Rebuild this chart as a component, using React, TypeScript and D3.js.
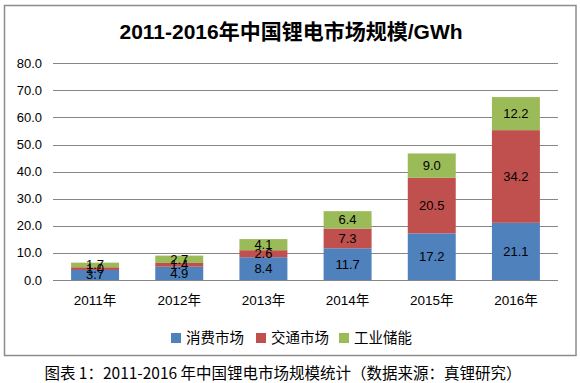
import React from "react";
import * as d3 from "d3";

const years = ["2011年", "2012年", "2013年", "2014年", "2015年", "2016年"];
const seriesNames = ["消费市场", "交通市场", "工业储能"];
const consumer = [3.7, 4.9, 8.4, 11.7, 17.2, 21.1];
const transport = [1.0, 1.4, 2.6, 7.3, 20.5, 34.2];
const industrial = [1.7, 2.7, 4.1, 6.4, 9.0, 12.2];
const yTicks = [0, 10, 20, 30, 40, 50, 60, 70, 80];
const colors = ["#4F81BD", "#C0504D", "#9BBB59"];

const W = 580;
const H = 383;
const FONT = "'Liberation Sans', 'Noto Sans CJK SC', sans-serif";
const CJK = "'Noto Sans CJK SC', 'Liberation Sans', sans-serif";

export default function App() {
  const x = d3.scaleBand<string>().domain(years).range([53, 558]).paddingInner(0.43).paddingOuter(0.215);
  const y = d3.scaleLinear().domain([0, 80]).range([280, 63.2]);
  const rows = years.map((yr, i) => ({ yr, c: consumer[i], t: transport[i], g: industrial[i] }));
  const stack = d3.stack<any>().keys(["c", "t", "g"])(rows);

  return (
    <svg width={W} height={H} style={{ position: "absolute", left: 0, top: 0, background: "#fff" }}>
      <rect x={0} y={0} width={W} height={H} fill="#fff" />
      <rect x={4.5} y={5.5} width={571.5} height={350} fill="none" stroke="#8c8c8c" strokeWidth={1.5} />
      <text x={291} y={38.5} textAnchor="middle" fontFamily={FONT} fontWeight="bold" fontSize={21} fill="#000">
        2011-2016年中国锂电市场规模/GWh
      </text>
      {yTicks.map((t) => (
        <g key={t}>
          <line x1={53} x2={558} y1={Math.round(y(t)) + 0.5} y2={Math.round(y(t)) + 0.5} stroke="#868686" strokeWidth={1} />
          <text x={42} y={y(t) + 4.5} textAnchor="end" fontFamily={FONT} fontSize={13} fill="#000">
            {t.toFixed(1)}
          </text>
        </g>
      ))}
      {stack.map((layer, si) => (
        <g key={si}>
          {layer.map((d, i) => (
            <rect
              key={i}
              x={x(years[i])}
              width={x.bandwidth()}
              y={y(d[1])}
              height={y(d[0]) - y(d[1])}
              fill={colors[si]}
            />
          ))}
        </g>
      ))}
      {stack.map((layer, si) => (
        <g key={"l" + si}>
          {layer.map((d, i) => (
            <text
              key={i}
              x={(x(years[i]) as number) + x.bandwidth() / 2}
              y={y((d[0] + d[1]) / 2) + 4.5}
              textAnchor="middle"
              fontFamily={FONT}
              fontSize={13}
              fill="#000"
            >
              {(d[1] - d[0]).toFixed(1)}
            </text>
          ))}
        </g>
      ))}
      {years.map((yr) => (
        <text
          key={yr}
          x={(x(yr) as number) + x.bandwidth() / 2}
          y={305}
          textAnchor="middle"
          fontFamily={FONT}
          fontSize={13.5}
          fill="#000"
        >
          {yr}
        </text>
      ))}
      {seriesNames.map((n, i) => {
        const lx = [171, 256, 339][i];
        return (
          <g key={n}>
            <rect x={lx} y={333} width={10} height={10} fill={colors[i]} />
            <text x={lx + 15} y={343} fontFamily={CJK} fontSize={14.5} fill="#000">
              {n}
            </text>
          </g>
        );
      })}
      <text x={283} y={379} textAnchor="middle" fontFamily={CJK} fontSize={15.5} fill="#000">
        图表 1：2011-2016 年中国锂电市场规模统计（数据来源：真锂研究）
      </text>
    </svg>
  );
}
